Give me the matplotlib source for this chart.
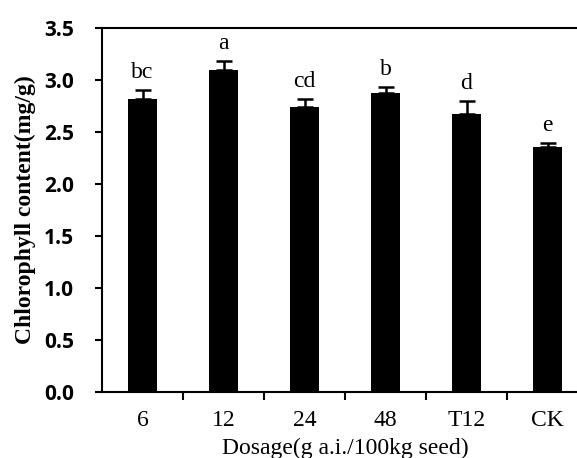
import matplotlib
matplotlib.use("Agg")
import matplotlib.pyplot as plt
import numpy as np

categories = ["6", "12", "24", "48", "T12", "CK"]
values = [2.82, 3.10, 2.74, 2.87, 2.67, 2.355]
errors = [0.08, 0.08, 0.08, 0.06, 0.13, 0.035]
letters = ["bc", "a", "cd", "b", "d", "e"]
yticks = [0.0, 0.5, 1.0, 1.5, 2.0, 2.5, 3.0, 3.5]

fig = plt.figure(figsize=(5.77, 4.58), dpi=100)
W, H = 577, 458
left, bottom, top = 102, 391.7, 28
cat_w = 81
ax = fig.add_axes([left / W, (H - bottom) / H, 6 * cat_w / W, (bottom - top) / H])

x = np.arange(len(categories))
ax.bar(x, values, width=0.37, color="black", zorder=2)
ax.errorbar(x, values, yerr=[np.zeros(len(values)), errors], fmt="none",
            ecolor="black", elinewidth=1.8, capsize=6, capthick=1.8, zorder=3)
for xi, v, e, l in zip(x, values, errors, letters):
    ax.annotate(l, (xi, v + e), xytext=(0, 5), textcoords="offset points",
                ha="center", va="bottom", fontsize=17, family="Liberation Serif")

ax.set_xlim(-0.5, 5.5)
ax.set_ylim(0, 3.5)
ax.set_yticks(yticks)
ax.set_yticklabels([f"{t:.1f}" for t in yticks], fontsize=15, fontweight="bold",
                   family="Open Sans")
ax.set_xticks(x)
ax.set_xticklabels(categories, fontsize=17, family="Liberation Serif")
ax.set_xticks(np.arange(0.5, 5.5, 1.0), minor=True)
ax.tick_params(axis="x", which="major", length=0, pad=13)
ax.tick_params(axis="x", which="minor", length=6, width=1.5, direction="out")
ax.tick_params(axis="y", length=5, width=1.5, direction="out", pad=15)

for s in ["left", "bottom", "top"]:
    ax.spines[s].set_linewidth(1.5)
ax.spines["right"].set_visible(False)

ax.set_ylabel("Chlorophyll content(mg/g)", fontsize=17, fontweight="bold",
              family="Liberation Serif", labelpad=6)
ax.set_xlabel("Dosage(g a.i./100kg seed)", fontsize=17, family="Liberation Serif",
              labelpad=5)

fig.savefig("out.png", dpi=100)
